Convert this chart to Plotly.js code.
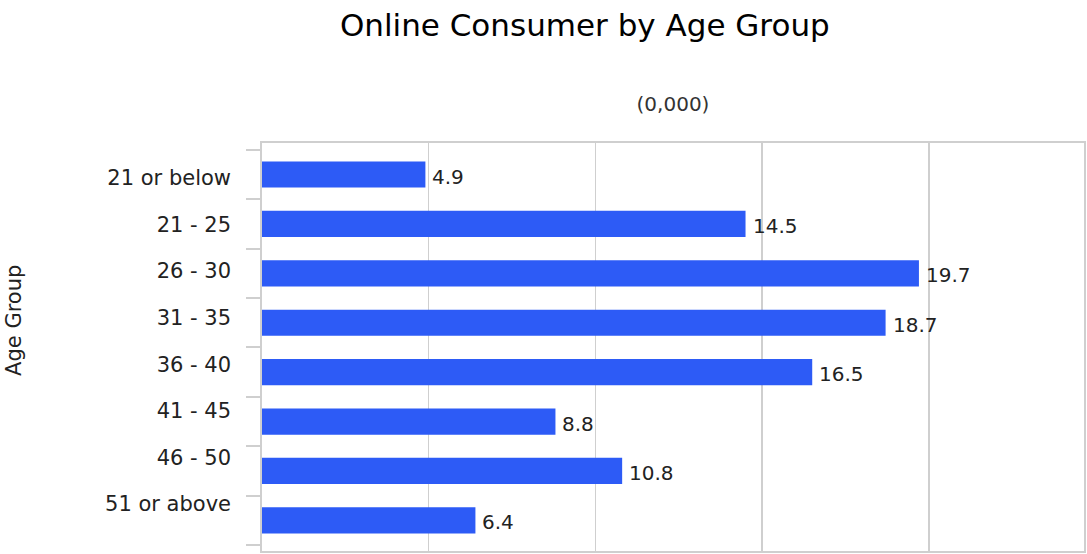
<!DOCTYPE html>
<html>
<head>
<meta charset="utf-8">
<script src="https://cdn.plot.ly/plotly-3.0.1.min.js"></script>
<style>html,body{margin:0;padding:0;background:#fff;}#chart{width:1087px;height:554px;}</style>
</head>
<body>
<div id="chart"></div>
<script>
const categories = ["21 or below", "21 - 25", "26 - 30", "31 - 35", "36 - 40", "41 - 45", "46 - 50", "51 or above"];
const values = [4.9, 14.5, 19.7, 18.7, 16.5, 8.8, 10.8, 6.4];
const positions = categories.map((c, i) => i);

const FONT = "'Century Gothic', 'URW Gothic', 'DejaVu Sans', sans-serif";

const bars = {
  type: 'bar',
  orientation: 'h',
  x: values,
  y: positions,
  width: 0.53,
  marker: {color: '#2d5bf6'},
  hoverinfo: 'x+y'
};

// invisible trace to carry the category label axis
const labelCarrier = {
  type: 'scatter',
  mode: 'markers',
  x: values.map(() => 0),
  y: positions,
  yaxis: 'y2',
  marker: {opacity: 0},
  hoverinfo: 'skip',
  showlegend: false
};

const annotations = values.map((v, i) => ({
  x: v, y: positions[i], xref: 'x', yref: 'y',
  text: v.toFixed(1), showarrow: false,
  xanchor: 'left', yanchor: 'middle', xshift: 5, yshift: -2,
  font: {family: FONT, size: 20, color: '#222'}
}));

annotations.push({
  text: 'Age Group', textangle: -90, showarrow: false,
  xref: 'paper', yref: 'paper', x: 0, y: 0.564,
  xanchor: 'center', yanchor: 'middle', xshift: -248,
  font: {family: FONT, size: 21, color: '#222'}
});

const layout = {
  width: 1087,
  height: 554,
  margin: {l: 262, r: 3, t: 143, b: 3},
  paper_bgcolor: '#fff',
  plot_bgcolor: '#fff',
  font: {family: FONT, color: '#222'},
  title: {text: 'Online Consumer by Age Group', font: {family: FONT, size: 31, color: '#000'}, x: 0.538, xanchor: 'center', y: 0.955, yanchor: 'middle'},
  showlegend: false,
  xaxis: {
    side: 'top',
    range: [0, 24.65],
    dtick: 5,
    showticklabels: false,
    showgrid: true,
    gridcolor: '#cfcfcf',
    gridwidth: 1.5,
    zeroline: false,
    showline: true,
    linecolor: '#cfcfcf',
    linewidth: 2,
    mirror: true,
    ticks: '',
    title: {text: '(0,000)', font: {family: FONT, size: 20, color: '#333'}, standoff: 24}
  },
  yaxis: {
    range: [7.62, -0.638],
    tickvals: positions,
    showticklabels: false,
    ticks: '',
    showgrid: false,
    zeroline: false,
    showline: true,
    linecolor: '#cfcfcf',
    linewidth: 2,
    mirror: true,
    minor: {tickmode: 'linear', tick0: 0.5, dtick: 1, ticks: 'outside', ticklen: 14, tickcolor: '#cfcfcf', tickwidth: 2, showgrid: false}
  },
  yaxis2: {
    overlaying: 'y',
    side: 'left',
    range: [8.01, -0.75],
    tickvals: positions,
    ticktext: categories,
    tickfont: {family: FONT, size: 21, color: '#222'},
    ticks: '',
    showgrid: false,
    zeroline: false,
    showline: false,
    ticklabelstandoff: 30
  },
  annotations: annotations
};

Plotly.newPlot('chart', [bars, labelCarrier], layout, {displayModeBar: false, staticPlot: true});
</script>
</body>
</html>
